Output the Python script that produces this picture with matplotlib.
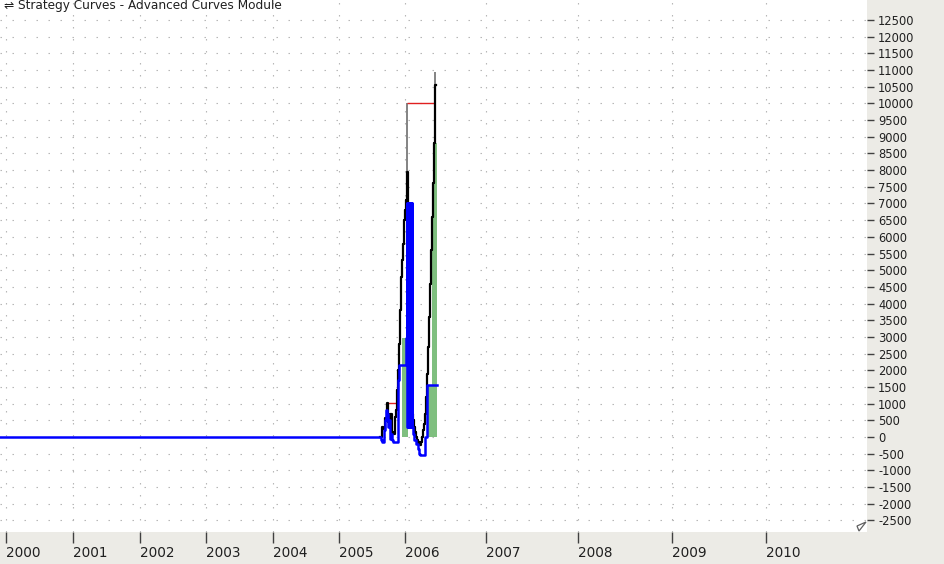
import matplotlib
matplotlib.use("Agg")
import matplotlib.pyplot as plt
from matplotlib.patches import Polygon

# bar index of the first bar of each year (the axis is bar based, not time based)
year_labels = ['2000', '2001', '2002', '2003', '2004', '2005', '2006', '2007', '2008', '2009', '2010']
year_bars = [6, 73, 140, 206, 273, 339, 405, 486, 578, 672, 766]
value_ticks = list(range(-2500, 12501, 500))

# blue curve
blue_bars = [0, 381, 382, 384, 385, 386, 387, 388, 389, 390, 391, 392, 393, 398, 399, 406,
             406.5, 407, 407.5, 408, 408.5, 409, 409.5, 410, 410.5, 411, 411.5, 412,
             413, 414, 416, 418, 419, 420, 425, 427, 437]
blue_vals = [0, -100, -150, 200, 500, 800, 700, 300, 500, -50, 100, -100, -150, 1700, 2160, 2970,
             7000, 300, 7000, 300, 7000, 300, 7000, 300, 7000, 300, 7000, 300,
             100, -100, -200, -350, -500, -550, 0, 1560, 1560]

# black curve
black_bars = [380, 382, 383, 385, 387, 388, 390, 392, 393, 395, 396, 397, 398, 399, 400,
              401, 402, 403, 404, 405, 406, 407, 408, 409, 410, 411, 412, 413, 414, 415,
              416, 417, 418, 419, 420, 421, 422, 423, 424, 425, 426, 427, 428, 429, 430,
              431, 432, 433, 434, 435, 436]
black_vals = [0, 300, 250, 580, 1020, 450, 700, 150, 100, 600, 800, 1400, 2000, 2800, 3800,
              4800, 5300, 5800, 6500, 6800, 7100, 7940, 6000, 4000, 2000, 900, 700, 500, 300, 150,
              0, -100, -200, -150, -250, -150, 0, 200, 400, 700, 1200, 1900, 2700, 3600, 4600,
              5600, 6600, 7600, 8800, 10550, 10550]

# thin grey spikes above the black curve
spike_bars = [407, 435]
spike_low = [7940, 10550]
spike_high = [10000, 10940]

# red high water segments
red_level = [300, 1020, 10000]
red_start = [382, 387, 407]
red_end = [385, 397, 435]

# green area
green_bars = [402, 408, 428, 432, 434, 437]
green_vals = [2970, 0, 1560, 7000, 8800, 0]

bg = '#ecebe6'
fig = plt.figure(figsize=(9.44, 5.64), dpi=100, facecolor=bg)
W, H = 944, 564
ax = fig.add_axes([0, 32 / H, 867 / W, 532 / H])
ax.set_facecolor('white')
for s in ax.spines.values():
    s.set_visible(False)

ax.fill_between(green_bars, 0, green_vals, step='post', color='#7fbf7f', lw=0, zorder=2)
ax.vlines(spike_bars, spike_low, spike_high, color='#6e6e6e', lw=1.2, zorder=3)
ax.hlines(red_level, red_start, red_end, color='#e02020', lw=1.0, zorder=3)
ax.plot(black_bars, black_vals, drawstyle='steps-post', color='black', lw=1.6, zorder=4)
ax.plot(blue_bars, blue_vals, drawstyle='steps-post', color='#0000ff', lw=1.8, zorder=5)

ax.set_xlim(0, 867)
ax.set_ylim(-2848, 13100)

ax.set_xticks(year_bars)
ax.set_xticklabels(year_labels, ha='left', fontsize=9.8, color='#202020')
ax.tick_params(axis='x', direction='out', length=8, width=1, color='#404040', pad=2)

ax.yaxis.tick_right()
ax.set_yticks(value_ticks)
ax.set_yticklabels([str(v) for v in value_ticks], fontsize=8.3, color='#202020')
ax.tick_params(axis='y', direction='out', length=5, width=1, color='#404040', pad=3)

ax.grid(True, color='#b4b4b4', lw=0.8, linestyle=(0, (1.3, 9.5)))
ax.set_axisbelow(True)

fig.text(4 / W, 1 - 5 / H, '\u21cc Strategy Curves - Advanced Curves Module',
         fontsize=8.7, color='#202020', va='center', ha='left')

# little corner marker at the bottom right of the plot area
fig.patches.append(Polygon([(857 / W, 1 - 526 / H), (866 / W, 1 - 522 / H), (859 / W, 1 - 531 / H)],
                           closed=True, fill=False, edgecolor='#606060', lw=0.9,
                           transform=fig.transFigure, figure=fig))

fig.savefig('out.png', dpi=100, facecolor=bg)
